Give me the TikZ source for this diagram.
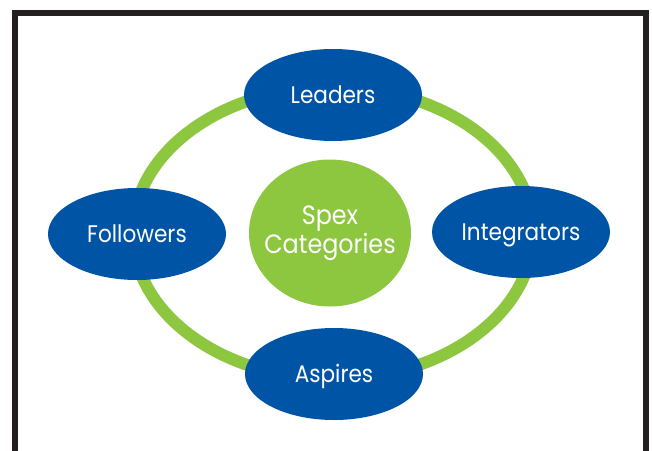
\documentclass[tikz,border=0pt]{standalone}
\usepackage{fontspec}
\setmainfont{Poppins}[FakeStretch=0.9]
\usetikzlibrary{shapes.geometric}
\definecolor{spexblue}{HTML}{0054A6}
\definecolor{spexgreen}{HTML}{8DC63F}
\definecolor{framecol}{HTML}{231F20}
\begin{document}
\begin{tikzpicture}[x=1pt,y=-1pt,
  cat/.style={ellipse, fill=spexblue, text=white, minimum width=178pt, minimum height=92pt, inner sep=0pt, text height=17pt, text depth=0pt, font=\fontsize{24}{28}\selectfont},
  hub/.style={ellipse, fill=spexgreen, text=white, minimum width=162pt, minimum height=147pt, inner xsep=-20pt, inner ysep=-8pt, align=center, font=\fontsize{26.5}{29}\selectfont},
  ring/.style={draw=spexgreen, line width=12pt},
  frame/.style={draw=framecol, line width=6pt, line join=miter}]
\useasboundingbox (0,0) rectangle (652,450);
\coordinate (c) at (333,233);
\draw[ring] (c) ellipse [x radius=200pt, y radius=146pt];
\node[cat] (leaders) at (333,95) {Leaders};
\node[cat] (followers) at (137,234) {Followers};
\node[cat] (integrators) at (521,232) {Integrators};
\node[cat] (aspires) at (334,374) {Aspires};
\node[hub] (hub) at (330,233) {Spex\\Categories};
\coordinate (fbl) at (14.5,470);
\coordinate (ftl) at (14.5,12.5);
\coordinate (ftr) at (645.5,12.5);
\coordinate (fbr) at (645.5,470);
\draw[frame] (fbl) -- (ftl) -- (ftr) -- (fbr);
\end{tikzpicture}
\end{document}
